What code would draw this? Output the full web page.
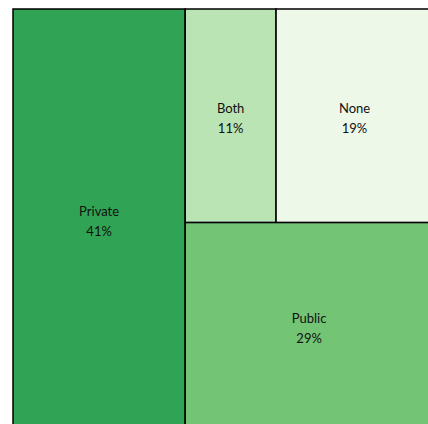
<!DOCTYPE html>
<html>
<head>
<meta charset="utf-8">
<script src="https://cdn.jsdelivr.net/npm/d3@7"></script>
<style>
  body { margin: 0; background: #fff; }
  svg { display: block; }
</style>
</head>
<body>
<script>
const width = 428;
const height = 424;
const marginLeft = 13;
const marginTop = 9;
const size = 420; // square plot, it runs past the right and bottom edges

const categories = ["Private", "Both", "None", "Public"];
const values = [41, 11, 19, 29];
const colors = ["#31a354", "#bae4b3", "#edf8e9", "#74c476"];

// layout groups: Private | ((Both | None) / Public)
const byName = new Map(categories.map((c, i) => [c, { name: c, value: values[i], color: colors[i] }]));
const data = {
  name: "root",
  children: [
    byName.get("Private"),
    {
      name: "right",
      children: [
        { name: "top", children: [byName.get("Both"), byName.get("None")] },
        byName.get("Public"),
      ],
    },
  ],
};

const total = d3.sum(values);
const root = d3.hierarchy(data).sum((d) => d.value || 0);

d3.treemap()
  .tile(d3.treemapSliceDice)
  .size([size, size])
  .round(false)(root);

const svg = d3
  .select("body")
  .append("svg")
  .attr("width", width)
  .attr("height", height);

const g = svg.append("g").attr("transform", `translate(${marginLeft},${marginTop})`);

const cell = g
  .selectAll("g")
  .data(root.leaves())
  .join("g")
  .attr("transform", (d) => `translate(${d.x0},${d.y0})`);

cell
  .append("rect")
  .attr("width", (d) => d.x1 - d.x0)
  .attr("height", (d) => d.y1 - d.y0)
  .attr("fill", (d) => d.data.color)
  .attr("stroke", "#000")
  .attr("stroke-width", 1.5);

const label = cell
  .append("text")
  .attr("font-family", "Lato, sans-serif")
  .attr("font-size", 13)
  .attr("fill", "#111")
  .attr("text-anchor", "middle")
  .attr("x", (d) => (d.x1 - d.x0) / 2)
  .attr("y", (d) => (d.y1 - d.y0) / 2);

label.append("tspan").attr("x", (d) => (d.x1 - d.x0) / 2).attr("dy", -3).text((d) => d.data.name);
label
  .append("tspan")
  .attr("x", (d) => (d.x1 - d.x0) / 2)
  .attr("dy", 20)
  .text((d) => Math.round((d.data.value / total) * 100) + "%");
</script>
</body>
</html>
